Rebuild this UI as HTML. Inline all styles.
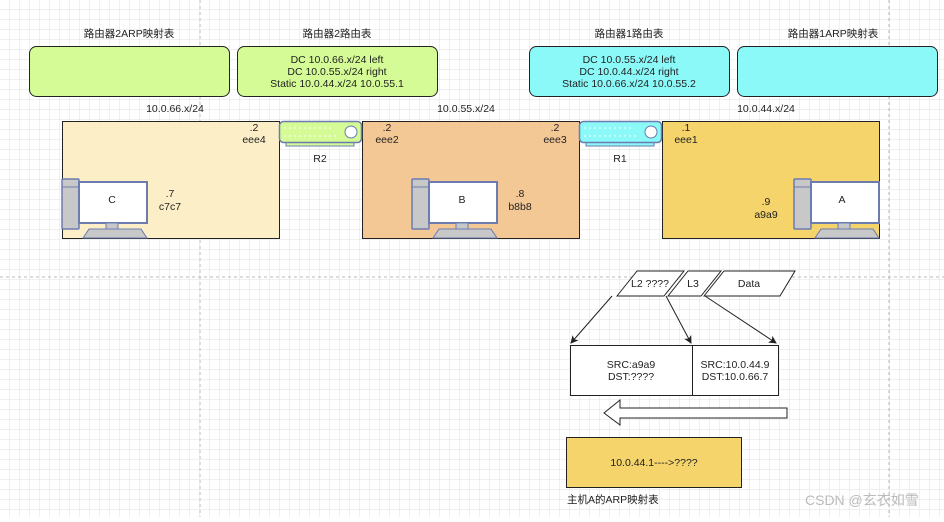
<!DOCTYPE html>
<html><head><meta charset="utf-8"><style>
body{margin:0;width:944px;height:517px;overflow:hidden;background:#fff;font-family:"Liberation Sans","Noto Sans CJK SC",sans-serif;}
svg text{font-family:"Liberation Sans","Noto Sans CJK SC",sans-serif;font-size:10.5px;fill:#222;}
</style></head><body>
<svg width="944" height="517" xmlns="http://www.w3.org/2000/svg">
<defs>
<pattern id="g" width="10" height="10" patternUnits="userSpaceOnUse"><path d="M10 0V10H0" fill="none" stroke="#e2e2e2" stroke-width="1"/></pattern>
<marker id="ar" markerWidth="8" markerHeight="8" refX="7" refY="4" orient="auto"><path d="M0,0L8,4L0,8L2,4z" fill="#222"/></marker>
<g id="pc">
<rect x="0" y="0" width="17" height="50" rx="1" fill="#c8c8c8" stroke="#6c7bb0" stroke-width="1.5"/>
<line x1="0" y1="8" x2="17" y2="8" stroke="#6c7bb0"/>
<rect x="17" y="3" width="68" height="41" fill="#fff" stroke="#6c7bb0" stroke-width="2"/>
<rect x="44" y="44" width="12" height="6" fill="#c8c8c8" stroke="#6c7bb0"/>
<path d="M21 59L27 50H79L85 59Z" fill="#c8c8c8" stroke="#6c7bb0"/>
</g>
</defs>
<rect width="944" height="517" fill="url(#g)"/>
<line x1="200" y1="0" x2="200" y2="517" stroke="#bbb" stroke-dasharray="3,3"/>
<line x1="889" y1="0" x2="889" y2="517" stroke="#bbb" stroke-dasharray="3,3"/>
<line x1="0" y1="277" x2="944" y2="277" stroke="#bbb" stroke-dasharray="3,3"/>

<g text-anchor="middle">
<text x="129" y="37">路由器2ARP映射表</text>
<text x="337" y="37">路由器2路由表</text>
<text x="629" y="37">路由器1路由表</text>
<text x="833" y="37">路由器1ARP映射表</text>
</g>
<rect x="29.5" y="46.5" width="200" height="50" rx="7" fill="#d4fb96" stroke="#222"/>
<rect x="237.5" y="46.5" width="200" height="50" rx="7" fill="#d4fb96" stroke="#222"/>
<rect x="529.5" y="46.5" width="200" height="50" rx="7" fill="#8cf9f9" stroke="#222"/>
<rect x="737.5" y="46.5" width="200" height="50" rx="7" fill="#8cf9f9" stroke="#222"/>
<g text-anchor="middle">
<text x="337" y="63">DC  10.0.66.x/24  left</text>
<text x="337" y="75">DC  10.0.55.x/24 right</text>
<text x="337" y="87">Static 10.0.44.x/24 10.0.55.1</text>
<text x="629" y="63">DC  10.0.55.x/24  left</text>
<text x="629" y="75">DC  10.0.44.x/24 right</text>
<text x="629" y="87">Static 10.0.66.x/24 10.0.55.2</text>
<text x="175" y="112">10.0.66.x/24</text>
<text x="466" y="112">10.0.55.x/24</text>
<text x="766" y="112">10.0.44.x/24</text>
</g>

<rect x="62.5" y="121.5" width="217" height="117" fill="#fcefc7" stroke="#222"/>
<rect x="362.5" y="121.5" width="217" height="117" fill="#f4c895" stroke="#222"/>
<rect x="662.5" y="121.5" width="217" height="117" fill="#f5d46c" stroke="#222"/>

<g>
<rect x="286" y="141" width="68" height="5" fill="#d4fb96" stroke="#6c7bb0"/>
<rect x="279.5" y="121.5" width="82" height="21" rx="4" fill="#d4fb96" stroke="#6c7bb0" stroke-width="1.5"/>
<circle cx="351" cy="132" r="6" fill="#fff" stroke="#6c7bb0"/>
<line x1="284" y1="128" x2="334" y2="128" stroke="#fff" stroke-dasharray="2,3"/>
<line x1="284" y1="136" x2="338" y2="136" stroke="#fff" stroke-dasharray="2,3"/>
</g>
<g>
<rect x="586" y="141" width="68" height="5" fill="#8cf9f9" stroke="#6c7bb0"/>
<rect x="579.5" y="121.5" width="82" height="21" rx="4" fill="#8cf9f9" stroke="#6c7bb0" stroke-width="1.5"/>
<circle cx="651" cy="132" r="6" fill="#fff" stroke="#6c7bb0"/>
<line x1="584" y1="128" x2="634" y2="128" stroke="#fff" stroke-dasharray="2,3"/>
<line x1="584" y1="136" x2="638" y2="136" stroke="#fff" stroke-dasharray="2,3"/>
</g>
<g text-anchor="middle">
<text x="320" y="162">R2</text><text x="620" y="162">R1</text>
<text x="254" y="131">.2</text><text x="254" y="143">eee4</text>
<text x="387" y="131">.2</text><text x="387" y="143">eee2</text>
<text x="555" y="131">.2</text><text x="555" y="143">eee3</text>
<text x="686" y="131">.1</text><text x="686" y="143">eee1</text>
<text x="170" y="197">.7</text><text x="170" y="210">c7c7</text>
<text x="520" y="197">.8</text><text x="520" y="210">b8b8</text>
<text x="766" y="205">.9</text><text x="766" y="218">a9a9</text>
</g>
<use href="#pc" x="62" y="179"/>
<use href="#pc" x="412" y="179"/>
<use href="#pc" x="794" y="179"/>
<g text-anchor="middle">
<text x="112" y="203">C</text><text x="462" y="203">B</text><text x="842" y="203">A</text>
</g>

<g fill="#fff" stroke="#222">
<path d="M617,296L637,271H684L664,296Z"/>
<path d="M668,296L688,271H721L701,296Z"/>
<path d="M704,296L724,271H795L780,296Z"/>
</g>
<g text-anchor="middle">
<text x="650" y="287">L2 ????</text><text x="693" y="287">L3</text><text x="749" y="287">Data</text>
</g>
<g stroke="#222" marker-end="url(#ar)">
<line x1="612" y1="296" x2="571" y2="343"/>
<line x1="666" y1="296" x2="691" y2="343"/>
<line x1="705" y1="296" x2="776" y2="343"/>
</g>
<rect x="570.5" y="345.5" width="122" height="50" fill="#fff" stroke="#222"/>
<rect x="692.5" y="345.5" width="86" height="50" fill="#fff" stroke="#222"/>
<g text-anchor="middle">
<text x="631" y="368">SRC:a9a9</text><text x="631" y="380">DST:????</text>
<text x="735" y="368">SRC:10.0.44.9</text><text x="735" y="380">DST:10.0.66.7</text>
</g>
<path d="M787,408V418H620V425L604,413L620,400V408Z" fill="#fff" stroke="#222"/>
<rect x="566.5" y="437.5" width="175" height="50" fill="#f5d46c" stroke="#222"/>
<text x="654" y="466" text-anchor="middle">10.0.44.1----&gt;????</text>
<text x="567" y="503">主机A的ARP映射表</text>
<text x="805" y="505" style="font-size:14px;fill:#bbb">CSDN @玄衣如雪</text>
</svg>
</body></html>
